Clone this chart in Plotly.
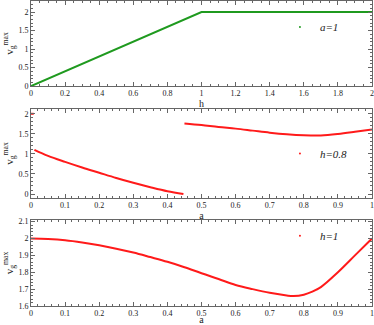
import plotly.graph_objects as go
from plotly.subplots import make_subplots

# panel 1: v_g^max against h, a=1
h_vals = [0, 1, 2]
v_h = [0, 2, 2]

# panel 2: v_g^max against a, h=0.8 (two branches + point at a=0)
a_low = [0.01, 0.05, 0.1, 0.15, 0.2, 0.25, 0.3, 0.35, 0.4, 0.447]
v_low = [1.10, 0.95, 0.80, 0.66, 0.53, 0.40, 0.28, 0.17, 0.07, 0.0]
a_high = [0.45, 0.5, 0.55, 0.6, 0.65, 0.7, 0.75, 0.8, 0.85, 0.9, 0.95, 1.0]
v_high = [1.76, 1.72, 1.67, 1.63, 1.58, 1.53, 1.49, 1.465, 1.46, 1.495, 1.55, 1.61]
a_pt = [0, 0.008]
v_pt = [2, 2]

# panel 3: v_g^max against a, h=1
a_h1 = [0, 0.05, 0.1, 0.15, 0.2, 0.25, 0.3, 0.35, 0.4, 0.45, 0.5, 0.55, 0.6,
        0.65, 0.7, 0.75, 0.77, 0.8, 0.825, 0.85, 0.9, 0.95, 1.0]
v_h1 = [2.0, 1.997, 1.99, 1.977, 1.96, 1.94, 1.917, 1.89, 1.862, 1.83, 1.794, 1.76, 1.725,
        1.70, 1.678, 1.662, 1.659, 1.667, 1.685, 1.712, 1.80, 1.90, 2.0]

GREEN = "#1f9a1f"
RED = "#ff1a1a"
FONT = "Liberation Serif"
TXT = "#222"

fig = make_subplots(rows=3, cols=1, vertical_spacing=0.08)

fig.add_trace(go.Scatter(x=h_vals, y=v_h, mode="lines", line=dict(color=GREEN, width=2),
                         showlegend=False), row=1, col=1)
for xs, ys in [(a_low, v_low), (a_high, v_high), (a_pt, v_pt)]:
    fig.add_trace(go.Scatter(x=xs, y=ys, mode="lines", line=dict(color=RED, width=2, shape="spline"),
                             showlegend=False), row=2, col=1)
fig.add_trace(go.Scatter(x=a_h1, y=v_h1, mode="lines", line=dict(color=RED, width=2, shape="spline"),
                         showlegend=False), row=3, col=1)

# legend entries (tiny dot + italic label) per panel
legend_items = [("<i>a=1</i>", GREEN, "legend", 1), ("<i>h=0.8</i>", RED, "legend2", 2),
                ("<i>h=1</i>", RED, "legend3", 3)]
for name, col, lg, r in legend_items:
    fig.add_trace(go.Scatter(x=[None], y=[None], mode="markers", name=name,
                             marker=dict(color=col, size=2), legend=lg, showlegend=True),
                  row=r, col=1)

leg = dict(bgcolor="rgba(0,0,0,0)", font=dict(family=FONT, size=11, color=TXT),
           itemwidth=30, xanchor="left", yanchor="middle", x=0.73)
fig.update_layout(
    width=374, height=325,
    margin=dict(l=31, r=2, t=1, b=19, autoexpand=False),
    plot_bgcolor="white", paper_bgcolor="white",
    font=dict(family=FONT, size=8, color=TXT),
    legend=dict(leg, y=0.915),
    legend2=dict(leg, y=0.50),
    legend3=dict(leg, y=0.23),
)

axis_common = dict(showgrid=False, zeroline=False, showline=True, linecolor="#666", linewidth=1,
                   mirror="allticks", ticks="inside", ticklen=4, tickcolor="#666",
                   tickfont=dict(family=FONT, size=8, color=TXT),
                   minor=dict(ticks="inside", ticklen=2, tickcolor="#666", nticks=5))
fig.update_xaxes(axis_common, automargin=True, ticklabelstandoff=-1)
fig.update_yaxes(axis_common, automargin=False)

fig.update_yaxes(domain=[0.721, 1.0], row=1, col=1)
fig.update_yaxes(domain=[0.354, 0.646], row=2, col=1)
fig.update_yaxes(domain=[0.0, 0.282], row=3, col=1)

title_font = dict(family=FONT, size=10, color=TXT)
ytitle = "v<sub>g</sub><sup>max</sup>"
fig.update_xaxes(range=[0, 2], dtick=0.2, title=dict(text="h", font=title_font, standoff=0), row=1, col=1)
fig.update_yaxes(range=[0, 2.3], dtick=0.5,
                 title=dict(text=ytitle, font=dict(title_font, size=11), standoff=2), row=1, col=1)
fig.update_xaxes(range=[0, 1], dtick=0.1, title=dict(text="a", font=title_font, standoff=0), row=2, col=1)
fig.update_yaxes(range=[-0.1, 2.12], dtick=0.5,
                 title=dict(text=ytitle, font=dict(title_font, size=11), standoff=2), row=2, col=1)
fig.update_xaxes(range=[0, 1], dtick=0.1, title=dict(text="a", font=title_font, standoff=0), row=3, col=1)
fig.update_yaxes(range=[1.6, 2.11], dtick=0.1,
                 title=dict(text=ytitle, font=dict(title_font, size=11), standoff=2), row=3, col=1)

# drop the page's default body margin so the figure sits at the window corner
fig.write_html("out.html", config={"displayModeBar": False},
               post_script="document.body.style.margin='0';")
